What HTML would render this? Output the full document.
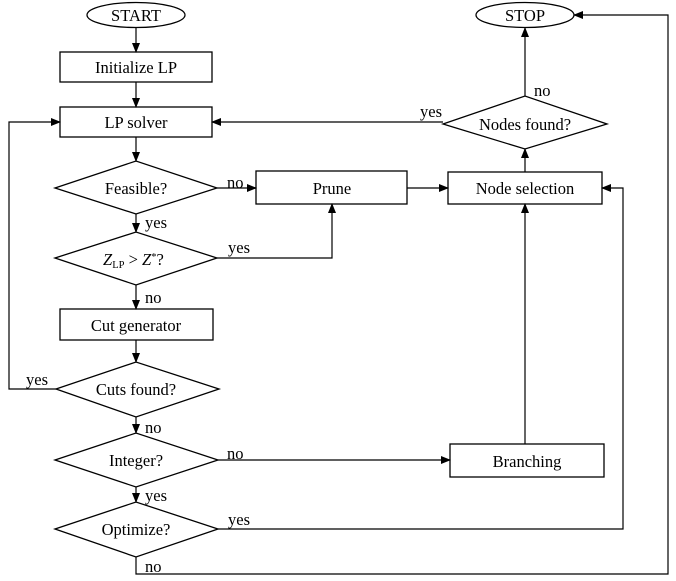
<!DOCTYPE html>
<html><head><meta charset="utf-8"><style>
html,body{margin:0;padding:0;background:#fff}
svg{display:block}
text{font-family:"Liberation Serif",serif;font-size:16.5px;fill:#000}
</style></head><body>
<svg width="676" height="581" viewBox="0 0 676 581" xmlns="http://www.w3.org/2000/svg">
<defs><marker id="a" markerWidth="10" markerHeight="8" refX="9" refY="4" orient="auto" markerUnits="userSpaceOnUse"><path d="M0,0 L10,4 L0,8 z" fill="#000"/></marker></defs>
<g fill="none" stroke="#000" stroke-width="1.3">
<ellipse cx="136" cy="15" rx="49" ry="12.5"/>
<ellipse cx="525" cy="15" rx="49" ry="12.5"/>
<rect x="60" y="52" width="152" height="30"/>
<rect x="60" y="107" width="152" height="30"/>
<rect x="256" y="171" width="151" height="33"/>
<rect x="448" y="172" width="154" height="32"/>
<rect x="60" y="309" width="153" height="31"/>
<rect x="450" y="444" width="154" height="33"/>
<polygon points="55,188 136,161 217,188 136,214"/>
<polygon points="55,258 136,232 217,258 136,285"/>
<polygon points="56,389 136,362 219,389 136,417"/>
<polygon points="55,460 136,433 218,460 136,487"/>
<polygon points="55,529 136,502 218,529 136,557"/>
<polygon points="443,124 525,96 607,124 525,149"/>
</g>
<g fill="none" stroke="#000" stroke-width="1.2" marker-end="url(#a)">
<line x1="136" y1="28" x2="136" y2="52"/>
<line x1="136" y1="82" x2="136" y2="107"/>
<line x1="136" y1="137" x2="136" y2="161"/>
<line x1="217" y1="188" x2="256" y2="188"/>
<line x1="136" y1="214" x2="136" y2="232"/>
<polyline points="217,258 332,258 332,204"/>
<line x1="136" y1="285" x2="136" y2="309"/>
<line x1="136" y1="340" x2="136" y2="362"/>
<polyline points="56,389 9,389 9,122 60,122"/>
<line x1="136" y1="417" x2="136" y2="433"/>
<line x1="218" y1="460" x2="450" y2="460"/>
<line x1="136" y1="487" x2="136" y2="502"/>
<polyline points="218,529 623,529 623,188 602,188"/>
<polyline points="136,557 136,574 668,574 668,15 574,15"/>
<line x1="407" y1="188" x2="448" y2="188"/>
<line x1="525" y1="444" x2="525" y2="204"/>
<line x1="525" y1="172" x2="525" y2="149"/>
<line x1="525" y1="96" x2="525" y2="28"/>
<line x1="443" y1="122" x2="212" y2="122"/>
</g>
<g text-anchor="middle">
<text x="136" y="21">START</text>
<text x="525" y="21">STOP</text>
<text x="136" y="73">Initialize LP</text>
<text x="136" y="128">LP solver</text>
<text x="136" y="194">Feasible?</text>
<text x="332" y="194">Prune</text>
<text x="525" y="194">Node selection</text>
<text x="525" y="130">Nodes found?</text>
<text x="136" y="331">Cut generator</text>
<text x="136" y="395">Cuts found?</text>
<text x="136" y="466">Integer?</text>
<text x="136" y="535">Optimize?</text>
<text x="527" y="467">Branching</text>
</g>
<text x="103" y="265" font-style="italic">Z<tspan font-size="10.5" dy="3" font-style="normal">LP</tspan><tspan dy="-3" font-style="normal"> &gt; </tspan>Z<tspan font-size="10.5" dy="-5" font-style="normal">*</tspan><tspan dy="5" font-style="normal">?</tspan></text>
<text x="227" y="188">no</text>
<text x="145" y="228">yes</text>
<text x="228" y="253">yes</text>
<text x="145" y="303">no</text>
<text x="26" y="385">yes</text>
<text x="145" y="433">no</text>
<text x="227" y="459">no</text>
<text x="145" y="501">yes</text>
<text x="228" y="525">yes</text>
<text x="145" y="572">no</text>
<text x="420" y="117">yes</text>
<text x="534" y="96">no</text>
</svg>
</body></html>
